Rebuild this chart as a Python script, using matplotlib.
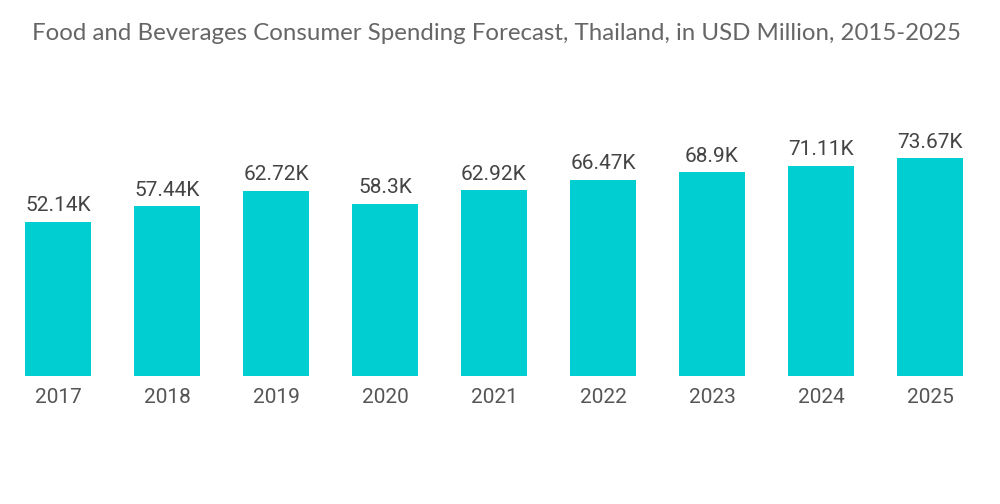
import matplotlib.pyplot as plt

years = ['2017', '2018', '2019', '2020', '2021', '2022', '2023', '2024', '2025']
spending = [52.14, 57.44, 62.72, 58.3, 62.92, 66.47, 68.9, 71.11, 73.67]
labels = ['52.14K', '57.44K', '62.72K', '58.3K', '62.92K', '66.47K', '68.9K', '71.11K', '73.67K']

fig = plt.figure(figsize=(10, 5.04), dpi=100)
ax = fig.add_axes([0.0035, 0.254, 0.981, 0.5476])

x = range(len(years))
bars = ax.bar(x, spending, width=0.6, color='#00CED1')
for b, lab in zip(bars, labels):
    ax.text(b.get_x() + b.get_width() / 2, b.get_height() + 2.2, lab,
            ha='center', va='bottom', fontsize=15, color='#444444', family='Roboto')

ax.set_xlim(-0.5, len(years) - 0.5)
ax.set_ylim(0, 93.4)
ax.set_xticks(list(x))
ax.set_xticklabels(years, fontsize=15, color='#555555', family='Roboto')
ax.tick_params(axis='x', length=0, pad=9)
ax.set_yticks([])
for s in ax.spines.values():
    s.set_visible(False)

fig.text(0.032, 0.934, 'Food and Beverages Consumer Spending Forecast, Thailand, in USD Million, 2015-2025',
         ha='left', va='center', fontsize=17.3, color='#666666', family='Lato')

fig.savefig('out.png', dpi=100)
